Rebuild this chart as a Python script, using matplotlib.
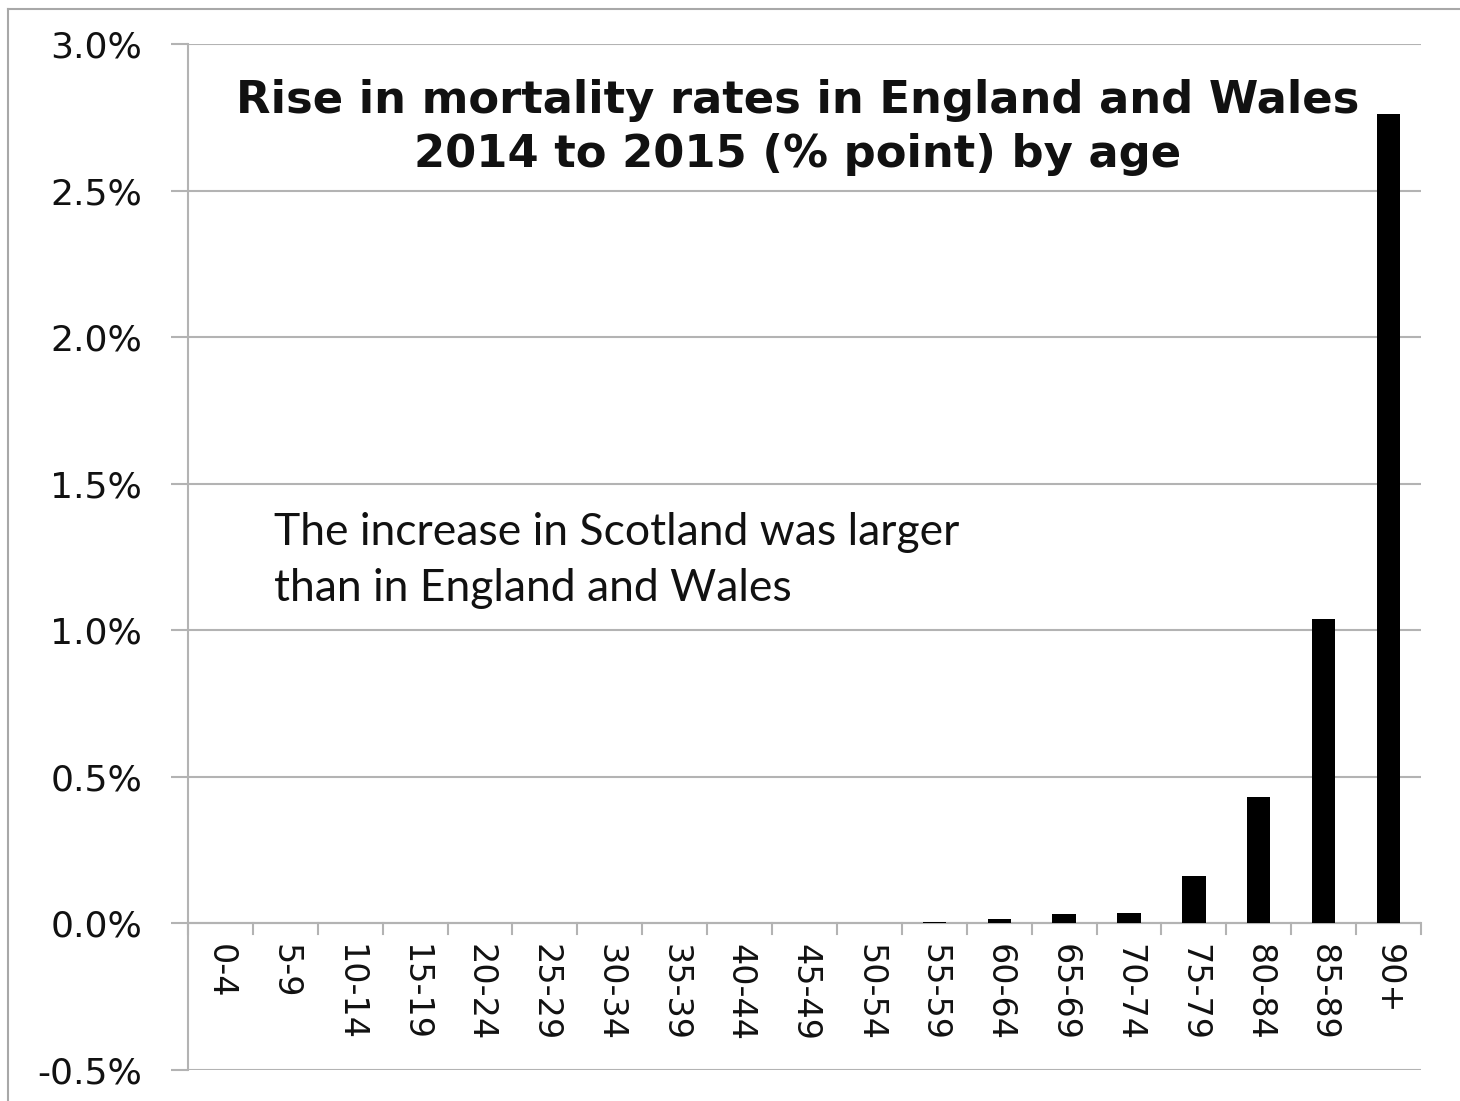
import matplotlib
matplotlib.use("Agg")
import matplotlib.pyplot as plt
import numpy as np
from matplotlib.lines import Line2D

age_groups = ["0-4", "5-9", "10-14", "15-19", "20-24", "25-29", "30-34", "35-39",
              "40-44", "45-49", "50-54", "55-59", "60-64", "65-69", "70-74",
              "75-79", "80-84", "85-89", "90+"]
rise_pct = [0.001, 0.001, 0.003, 0.003, 0.003, 0.001, 0.003, 0.003,
            0.003, 0.003, 0.003, 0.006, 0.016, 0.031, 0.034,
            0.161, 0.43, 1.037, 2.76]
y_ticks = [-0.5, 0.0, 0.5, 1.0, 1.5, 2.0, 2.5, 3.0]
title_lines = ["Rise in mortality rates in England and Wales",
               "2014 to 2015 (% point) by age"]
note_lines = ["The increase in Scotland was larger",
              "than in England and Wales"]

W, H = 1460, 1101
fig = plt.figure(figsize=(W / 100, H / 100), dpi=100)
fig.patch.set_facecolor("white")

L, R, T, B = 188, 1421, 44, 1070
ax = fig.add_axes([L / W, 1 - B / H, (R - L) / W, (B - T) / H])

grey = "#b3b3b3"
n = len(age_groups)
x = np.arange(n)
ax.bar(x, rise_pct, width=0.36, color="black", zorder=3)

ax.set_xlim(-0.5, n - 0.5)
ax.set_ylim(-0.5, 3.0)
ax.set_yticks(y_ticks)
ax.set_yticklabels([f"{v:.1f}%" for v in y_ticks])
ax.yaxis.grid(True, color=grey, linewidth=1.5, zorder=0)
ax.set_axisbelow(True)

for s in ["top", "right", "bottom"]:
    ax.spines[s].set_visible(False)
ax.spines["left"].set_color(grey)
ax.spines["left"].set_linewidth(1.5)

ax.tick_params(axis="y", length=12, width=1.5, color=grey, pad=21,
               labelsize=26, labelcolor="#111111")

# x axis line at zero with boundary ticks
ax.axhline(0, color=grey, linewidth=1.5, zorder=2)
ax.set_xticks(x)
ax.set_xticklabels([])
ax.tick_params(axis="x", length=0)
for b in np.arange(-0.5, n, 1.0):
    ax.plot([b, b], [0, -0.035], color=grey, linewidth=1.5, clip_on=False, zorder=2)
for xi, lab in zip(x, age_groups):
    ax.text(xi, -0.07, lab, rotation=270, ha="center", va="top",
            fontsize=24, color="#111111")

# titles and note
fig.text(798 / W, 1 - 113 / H, title_lines[0], ha="center", va="baseline",
         fontsize=32.3, fontweight="bold", color="#111111")
fig.text(798 / W, 1 - 167 / H, title_lines[1], ha="center", va="baseline",
         fontsize=32.3, fontweight="bold", color="#111111")
fig.text(274 / W, 1 - 545 / H, note_lines[0], ha="left", va="baseline",
         fontsize=32, family="Lato", color="#111111")
fig.text(274 / W, 1 - 601 / H, note_lines[1], ha="left", va="baseline",
         fontsize=32, family="Lato", color="#111111")

# outer frame (top and left)
fig.add_artist(Line2D([8 / W, 1], [1 - 9 / H, 1 - 9 / H], transform=fig.transFigure,
                      color="#a8a8a8", linewidth=1.5))
fig.add_artist(Line2D([8 / W, 8 / W], [0, 1 - 9 / H], transform=fig.transFigure,
                      color="#a8a8a8", linewidth=1.5))

fig.savefig("out.png", dpi=100)
